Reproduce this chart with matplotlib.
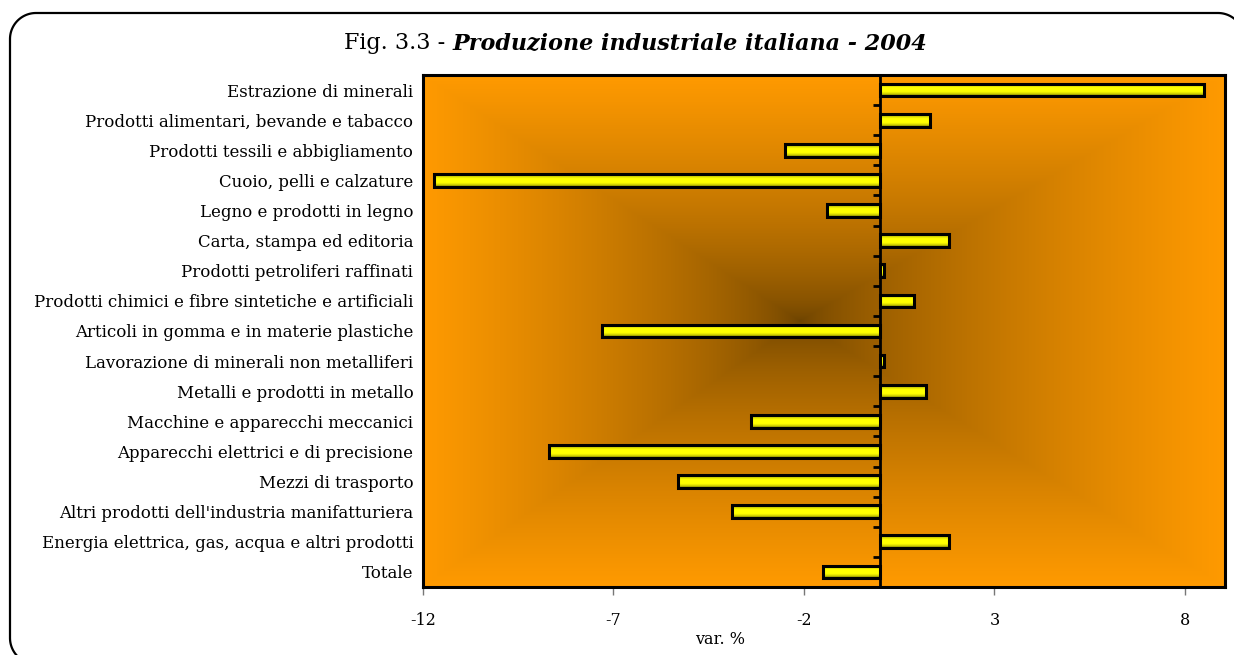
import numpy as np
import matplotlib
matplotlib.use("Agg")
import matplotlib.pyplot as plt
from matplotlib.colors import LinearSegmentedColormap

categories = [
    "Estrazione di minerali",
    "Prodotti alimentari, bevande e tabacco",
    "Prodotti tessili e abbigliamento",
    "Cuoio, pelli e calzature",
    "Legno e prodotti in legno",
    "Carta, stampa ed editoria",
    "Prodotti petroliferi raffinati",
    "Prodotti chimici e fibre sintetiche e artificiali",
    "Articoli in gomma e in materie plastiche",
    "Lavorazione di minerali non metalliferi",
    "Metalli e prodotti in metallo",
    "Macchine e apparecchi meccanici",
    "Apparecchi elettrici e di precisione",
    "Mezzi di trasporto",
    "Altri prodotti dell'industria manifatturiera",
    "Energia elettrica, gas, acqua e altri prodotti",
    "Totale",
]
values = [8.5, 1.3, -2.5, -11.7, -1.4, 1.8, 0.1, 0.9, -7.3, 0.1, 1.2,
          -3.4, -8.7, -5.3, -3.9, 1.8, -1.5]
xticks = [-12, -7, -2, 3, 8]

FONT = "DejaVu Serif"
plt.rcParams['font.family'] = [FONT]

W, H = 1234, 655
fig = plt.figure(figsize=(W / 100, H / 100), dpi=100)

# frame layer in pixel units for the rounded border
bg = fig.add_axes([0, 0, 1, 1])
bg.set_xlim(0, W)
bg.set_ylim(0, H)
bg.axis("off")
left, top, right, bottom, rad = 10, 13, 1244, 664, 26
# convert to bottom-up coordinates
L, R, T, B = left, right, H - top, H - bottom
def arc(cx, cy, a0, a1):
    t = np.radians(np.linspace(a0, a1, 30))
    return cx + rad * np.cos(t), cy + rad * np.sin(t)
pts_x, pts_y = [], []
for (cx_, cy_, a0, a1) in [(R - rad, T - rad, 0, 90),
                           (L + rad, T - rad, 90, 180),
                           (L + rad, B + rad, 180, 270),
                           (R - rad, B + rad, 270, 360)]:
    ax_, ay_ = arc(cx_, cy_, a0, a1)
    pts_x.extend(ax_)
    pts_y.extend(ay_)
pts_x.append(pts_x[0])
pts_y.append(pts_y[0])
bg.plot(pts_x, pts_y, color="black", linewidth=1.6, clip_on=False)

ax = fig.add_axes([423/W, 1-587/H, 802/W, 512/H])

# background gradient (rectangular, dark at centre)
ny, nx = 400, 800
gx = np.linspace(0, 1, nx)
gy = np.linspace(0, 1, ny)
X, Y = np.meshgrid(gx, gy)
cx, cy = 0.47, 0.52
dx = np.abs(X - cx) / np.where(X < cx, cx, 1 - cx)
dy = np.abs(Y - cy) / np.where(Y < cy, cy, 1 - cy)
d = np.clip(np.maximum(dx, dy), 0, 1) ** 0.65
bg_cmap = LinearSegmentedColormap.from_list("bg", ["#6b4200", "#ff9a00"])
ax.imshow(d, cmap=bg_cmap, vmin=0, vmax=1, extent=[0, 1, 0, 1],
          transform=ax.transAxes, aspect="auto", origin="lower", zorder=0,
          interpolation="bilinear")

y = np.arange(len(categories))
bars = ax.barh(y, values, height=0.42, color="#ffff00", edgecolor="none",
               zorder=3)

bar_cmap = LinearSegmentedColormap.from_list(
    "bar", ["#6e6e00", "#d0d000", "#ffff00", "#ffff00", "#ffff00",
            "#d0d000", "#6e6e00"])
grad = np.linspace(0, 1, 64).reshape(-1, 1)
for b in bars:
    x0, y0 = b.get_x(), b.get_y()
    w, h = b.get_width(), b.get_height()
    im = ax.imshow(grad, cmap=bar_cmap, extent=[x0, x0 + w, y0, y0 + h],
                   aspect="auto", zorder=3.5, interpolation="bilinear")
    im.set_clip_path(b)
    ax.add_patch(plt.Rectangle((x0, y0), w, h, fill=False,
                               edgecolor="black", linewidth=2.2, zorder=4))

ax.set_xlim(-12, 9.05)
ax.set_ylim(len(categories) - 0.5, -0.5)
ax.axvline(0, color="black", linewidth=2, zorder=5)
for i in range(len(categories) - 1):
    ax.plot([-0.18, 0], [i + 0.5, i + 0.5], color="black", linewidth=2,
            zorder=5, solid_capstyle="butt")

ax.set_xticks(xticks)
ax.set_xticklabels([str(t) for t in xticks])
ax.set_yticks(y)
ax.set_yticklabels(categories)
ax.tick_params(axis="y", length=0, pad=7, labelsize=12)
ax.tick_params(axis="x", length=6, width=1, color="#777777", pad=12,
               labelsize=11.5)
for s in ax.spines.values():
    s.set_linewidth(2.2)
    s.set_color("black")
    s.set_zorder(6)

fig.text(720/W, 1-640/H, "var. %", ha="center", va="center",
         fontsize=11.5, family=FONT)

# title
t1 = fig.text(0.5, 1-43/H, "Fig. 3.3 - ", ha="right", va="center",
              fontsize=16, family=FONT)
t2 = fig.text(0.5, 1-43/H, "Produzione industriale italiana - 2004",
              ha="left", va="center", fontsize=16, family=FONT,
              style="italic", weight="bold")
fig.canvas.draw()
r = fig.canvas.get_renderer()
w1 = t1.get_window_extent(r).width / W
w2 = t2.get_window_extent(r).width / W
start = 636/W - (w1 + w2) / 2
t1.set_x(start + w1)
t2.set_x(start + w1)

fig.savefig("out.png", dpi=100)
